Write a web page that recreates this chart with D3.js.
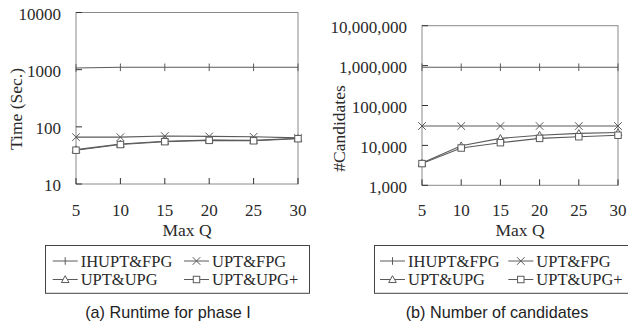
<!DOCTYPE html>
<html>
<head>
<meta charset="utf-8">
<script src="https://cdn.jsdelivr.net/npm/d3@7"></script>
<style>
  body { margin: 0; background: #fff; }
  svg { display: block; }
  .tick-label { font-family: "Liberation Serif", "DejaVu Serif", serif; font-size: 17px; fill: #2a2a2a; }
  .axis-title { font-family: "Liberation Serif", "DejaVu Serif", serif; font-size: 17.5px; fill: #2a2a2a; }
  .legend-label { font-family: "Liberation Serif", "DejaVu Serif", serif; font-size: 16.5px; fill: #2a2a2a; }
  .caption { font-family: "Liberation Sans", Arial, sans-serif; font-size: 16.2px; fill: #222; }
</style>
</head>
<body>
<svg id="chart" width="628" height="327"></svg>
<script>
// shared x values
const maxQ = [5, 10, 15, 20, 25, 30];
const seriesNames = ['IHUPT&FPG', 'UPT&FPG', 'UPT&UPG', 'UPT&UPG+'];
const markerTypes = ['plus', 'cross', 'triangle', 'square'];

// (a) runtime, seconds
const runtimeIHUPT = [1070, 1100, 1100, 1100, 1100, 1100];
const runtimeUPTFPG = [66, 66, 69, 68, 67, 64];
const runtimeUPTUPG = [40, 50, 56, 59, 58, 63];
const runtimeUPTUPGplus = [39, 49, 55, 58, 57, 62];
const runtimeTicks = [10, 100, 1000, 10000];

// (b) number of candidates
const candIHUPT = [910000, 910000, 910000, 910000, 910000, 910000];
const candUPTFPG = [30600, 30600, 30600, 30600, 30600, 30600];
const candUPTUPG = [3600, 9800, 15000, 18000, 20000, 21000];
const candUPTUPGplus = [3500, 8600, 11700, 15000, 16500, 18000];
const candTicks = [1000, 10000, 100000, 1000000, 10000000];

const svg = d3.select('#chart');
const lineColor = '#5a5a5a';
const frameColor = '#8a8a8a';

const panels = [
  {
    series: [runtimeIHUPT, runtimeUPTFPG, runtimeUPTUPG, runtimeUPTUPGplus],
    ticks: runtimeTicks, fmt: d3.format('d'),
    left: 76, right: 298, top: 12.5, bottom: 184,
    yTitle: 'Time (Sec.)', yTitleX: 16, yTitleY: 109,
    legend: { x: 45.5, w: 264, col1: 52.7, col2: 184 },
    caption: '(a) Runtime for phase I', captionX: 168
  },
  {
    series: [candIHUPT, candUPTFPG, candUPTUPG, candUPTUPGplus],
    ticks: candTicks, fmt: d3.format(','),
    left: 422, right: 618, top: 25.7, bottom: 185.3,
    yTitle: '#Candidates', yTitleX: 339, yTitleY: 128.5,
    legend: { x: 374.5, w: 260, col1: 380, col2: 508.3 },
    caption: '(b) Number of candidates', captionX: 497
  }
];

function drawMarker(g, type, x, y) {
  const s = 3.8;
  if (type === 'plus') {
    g.append('line').attr('x1', x).attr('x2', x).attr('y1', y - s).attr('y2', y + s);
  } else if (type === 'cross') {
    g.append('path').attr('d', `M${x - s},${y - s}L${x + s},${y + s}M${x - s},${y + s}L${x + s},${y - s}`);
  } else if (type === 'triangle') {
    g.append('path').attr('d', `M${x},${y - s}L${x + s},${y + s * 0.8}L${x - s},${y + s * 0.8}Z`).attr('fill', '#fff');
  } else {
    g.append('rect').attr('x', x - s * 0.85).attr('y', y - s * 0.85).attr('width', s * 1.7).attr('height', s * 1.7).attr('fill', '#fff');
  }
}

panels.forEach(p => {
  const x = d3.scaleLinear().domain([5, 30]).range([p.left, p.right]);
  const y = d3.scaleLog().domain([p.ticks[0], p.ticks[p.ticks.length - 1]]).range([p.bottom, p.top]);
  const g = svg.append('g');

  // frame
  g.append('rect').attr('x', p.left).attr('y', p.top)
    .attr('width', p.right - p.left).attr('height', p.bottom - p.top)
    .attr('fill', 'none').attr('stroke', frameColor).attr('stroke-width', 1);

  // y ticks (inside) and labels
  p.ticks.forEach(t => {
    g.append('line').attr('x1', p.left).attr('x2', p.left + 6).attr('y1', y(t)).attr('y2', y(t))
      .attr('stroke', '#333');
    g.append('text').attr('class', 'tick-label').attr('x', p.left - 15).attr('y', y(t) + 1.5)
      .attr('dy', '0.35em').attr('text-anchor', 'end').text(p.fmt(t));
  });

  // x ticks (inside) and labels
  maxQ.forEach(q => {
    g.append('line').attr('x1', x(q)).attr('x2', x(q)).attr('y1', p.bottom).attr('y2', p.bottom - 6)
      .attr('stroke', '#333');
    g.append('text').attr('class', 'tick-label').attr('x', x(q)).attr('y', 210.5)
      .attr('dy', '0.35em').attr('text-anchor', 'middle').text(q);
  });

  g.append('text').attr('class', 'axis-title').attr('x', (p.left + p.right) / 2).attr('y', 230)
    .attr('dy', '0.35em').attr('text-anchor', 'middle').text('Max Q');

  g.append('text').attr('class', 'axis-title')
    .attr('transform', `translate(${p.yTitleX},${p.yTitleY}) rotate(-90)`)
    .attr('dy', '0.35em').attr('text-anchor', 'middle').text(p.yTitle);

  // series
  const line = d3.line().x((d, i) => x(maxQ[i])).y(d => y(d));
  p.series.forEach((vals, si) => {
    g.append('path').attr('d', line(vals)).attr('fill', 'none')
      .attr('stroke', lineColor).attr('stroke-width', 1.1);
    const mg = g.append('g').attr('stroke', lineColor).attr('stroke-width', 1).attr('fill', 'none');
    vals.forEach((v, i) => drawMarker(mg, markerTypes[si], x(maxQ[i]), y(v)));
  });

  // legend
  const lg = g.append('g');
  lg.append('rect').attr('x', p.legend.x).attr('y', 245.5).attr('width', p.legend.w).attr('height', 47.8)
    .attr('fill', 'none').attr('stroke', '#444').attr('stroke-width', 1);
  seriesNames.forEach((name, si) => {
    const lx = si % 2 === 0 ? p.legend.col1 : p.legend.col2;
    const ly = si < 2 ? 261 : 279.5;
    const item = lg.append('g').attr('stroke', lineColor).attr('fill', 'none');
    item.append('line').attr('x1', lx).attr('x2', lx + 25).attr('y1', ly).attr('y2', ly);
    drawMarker(item, markerTypes[si], lx + 12.5, ly);
    lg.append('text').attr('class', 'legend-label').attr('x', lx + 28).attr('y', ly)
      .attr('dy', '0.35em').text(name);
  });

  g.append('text').attr('class', 'caption').attr('x', p.captionX).attr('y', 312)
    .attr('dy', '0.35em').attr('text-anchor', 'middle').text(p.caption);
});
</script>
</body>
</html>
